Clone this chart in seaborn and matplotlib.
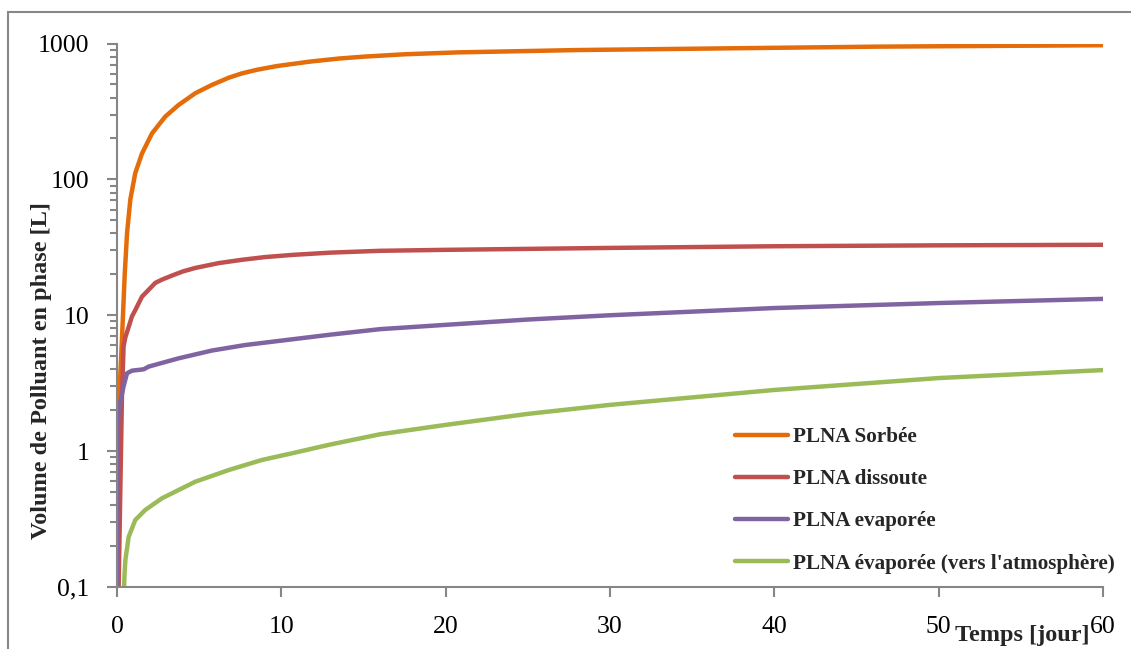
import numpy as np
import pandas as pd
import matplotlib
matplotlib.use("Agg")
import matplotlib.pyplot as plt
import matplotlib.ticker as mticker
from matplotlib.patches import Rectangle
import seaborn as sns

sns.set_style("white")
plt.rcParams["font.family"] = ["Liberation Serif", "DejaVu Serif"]

## Data (time in days, volume in litres)
t_sorbee = [0.04, 0.1, 0.3, 0.47, 0.61, 0.81, 1.11, 1.52, 2.13, 2.94, 3.75, 4.77,
            5.78, 6.8, 7.61, 8.5, 9.72, 11.75, 13.5, 15, 17.5, 20.7, 28, 35, 46.2, 60]
v_sorbee = [0.1, 2.0, 6.6, 20, 40, 71, 111, 155, 218, 290, 353, 431,
            496, 560, 603, 640, 682, 736, 775, 800, 833, 860, 895, 915, 948, 971]

t_dissoute = [0.1, 0.3, 0.4, 0.51, 0.71, 0.91, 1.11, 1.52, 2.33, 2.74, 3.35, 4.0,
              4.77, 6.19, 7.61, 9.0, 10.65, 13, 16, 20, 30, 40, 50, 60]
v_dissoute = [0.1, 2.5, 5.9, 6.9, 8.2, 9.8, 10.9, 13.7, 17.3, 18.3, 19.6, 21.0,
              22.3, 24.2, 25.6, 26.8, 27.8, 28.9, 29.8, 30.3, 31.3, 32.2, 32.7, 33.0]

t_evap = [0.0, 0.03, 0.06, 0.1, 0.4, 0.61, 0.91, 1.62, 1.93, 3.75, 5.78, 7.81,
          10.65, 13, 16, 20, 25, 30, 40, 50, 60]
v_evap = [0.1, 1.0, 1.6, 2.0, 3.0, 3.74, 3.91, 4.0, 4.19, 4.82, 5.5, 6.04,
          6.65, 7.2, 7.9, 8.5, 9.3, 10.0, 11.3, 12.3, 13.2]

t_atm = [0.43, 0.46, 0.51, 0.71, 1.11, 1.72, 2.74, 4.77, 6.8, 8.82, 10.65, 13,
         16, 20, 25, 30, 40, 50, 60]
v_atm = [0.1, 0.125, 0.158, 0.234, 0.311, 0.369, 0.45, 0.596, 0.726, 0.861, 0.964, 1.12,
         1.33, 1.56, 1.88, 2.19, 2.82, 3.45, 3.95]

series_names = ["PLNA Sorbée", "PLNA dissoute", "PLNA evaporée",
                "PLNA évaporée (vers l'atmosphère)"]
colors = ["#E46C0A", "#C0504D", "#8064A2", "#9BBB59"]

df = pd.concat([
    pd.DataFrame({"temps": t_sorbee, "volume": v_sorbee, "phase": series_names[0]}),
    pd.DataFrame({"temps": t_dissoute, "volume": v_dissoute, "phase": series_names[1]}),
    pd.DataFrame({"temps": t_evap, "volume": v_evap, "phase": series_names[2]}),
    pd.DataFrame({"temps": t_atm, "volume": v_atm, "phase": series_names[3]}),
], ignore_index=True)

## Plot
fig = plt.figure(figsize=(11.31, 6.49), dpi=100)
ax = fig.add_axes([117 / 1131, 1 - 587 / 649, 986 / 1131, 543.5 / 649])

# outer chart frame (only top/left edges visible in the reference)
fig.patches.append(Rectangle((8 / 1131, -0.2), 1.2, 1.2 - 12 / 649, transform=fig.transFigure,
                             fill=False, edgecolor="#878787", linewidth=1.5))

for name, col in zip(series_names, colors):
    sub = df[df["phase"] == name]
    sns.lineplot(data=sub, x="temps", y="volume", ax=ax, color=col, linewidth=3.2,
                 label=name, sort=False, estimator=None)

ax.set_yscale("log")
ax.set_ylim(0.1, 1000)
ax.set_xlim(0, 60)
ax.set_xticks(range(0, 61, 10))
ax.yaxis.set_major_locator(mticker.LogLocator(base=10, numticks=99))
ax.yaxis.set_minor_locator(mticker.LogLocator(base=10, subs=np.arange(2, 10) * 1.0, numticks=99))
ax.yaxis.set_minor_formatter(mticker.NullFormatter())
ax.yaxis.set_major_formatter(mticker.FuncFormatter(
    lambda v, p: ("%g" % v).replace(".", ",")))

for side in ["top", "right"]:
    ax.spines[side].set_visible(False)
for side in ["left", "bottom"]:
    ax.spines[side].set_color("#868686")
    ax.spines[side].set_linewidth(1.5)

ax.tick_params(axis="both", which="both", left=True, bottom=True)
ax.tick_params(axis="both", which="major", direction="out", length=7, width=1.5,
               color="#868686", labelsize=18.5, labelcolor="black")
ax.tick_params(axis="y", which="major", pad=13)
ax.tick_params(axis="x", which="major", pad=14)
ax.tick_params(axis="y", which="minor", direction="out", length=5, width=1.5, color="#868686")
ax.tick_params(axis="x", which="minor", bottom=False)

ax.set_xlabel("Temps [jour]", fontsize=17.5, fontweight="bold")
ax.xaxis.set_label_coords(0.918, -0.069)
ax.set_ylabel("Volume de Polluant en phase [L]", fontsize=17.5, fontweight="bold")
ax.yaxis.set_label_coords(-0.066, 0.399)

ax.legend(loc="upper left", bbox_to_anchor=(735 / 1131, 1 - 427 / 649),
          bbox_transform=fig.transFigure, frameon=False, borderpad=0, borderaxespad=0,
          prop={"weight": "bold", "size": 15.2}, handlelength=2.5, handletextpad=0.25,
          labelspacing=1.05)

ax.grid(False)
fig.savefig("out.png", dpi=100)
